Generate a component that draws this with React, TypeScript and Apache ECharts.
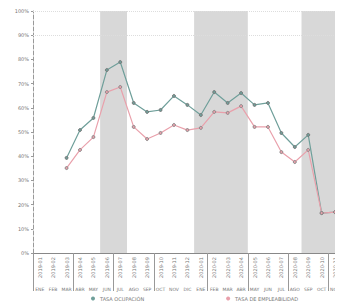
import React, { useEffect, useRef } from "react";
import * as echarts from "echarts";

const periods = [
  "2019-01", "2019-02", "2019-03", "2019-04", "2019-05", "2019-06", "2019-07", "2019-08",
  "2019-09", "2019-10", "2019-11", "2019-12", "2020-01", "2020-02", "2020-03", "2020-04",
  "2020-05", "2020-06", "2020-07", "2020-08", "2020-09", "2020-10", "2020-11",
];
const months = [
  "ENE", "FEB", "MAR", "ABR", "MAY", "JUN", "JUL", "AGO", "SEP", "OCT", "NOV", "DIC",
  "ENE", "FEB", "MAR", "ABR", "MAY", "JUN", "JUL", "AGO", "SEP", "OCT", "NOV",
];
const tasaOcupacion = [
  null, null, 39.3, 50.8, 55.8, 75.6, 78.9, 62.0, 58.3, 59.1, 64.9, 61.2,
  57.0, 66.5, 62.0, 66.1, 61.2, 62.0, 49.6, 43.8, 48.8, 16.5, 16.9,
];
const tasaEmpleo = [
  null, null, 35.1, 42.6, 47.9, 66.5, 68.6, 52.1, 47.1, 49.6, 52.9, 50.8,
  51.7, 58.3, 57.9, 60.7, 52.1, 52.1, 41.7, 37.6, 42.6, 16.5, 16.9,
];
const seriesNames = ["TASA OCUPACIÓN", "TASA DE EMPLEABILIDAD"];
// shaded periods: first and last category index (inclusive)
const shadedRanges: [number, number][] = [[5, 6], [12, 15], [20, 22]];
const groupStarts = [0, 3, 6, 9, 13, 16, 19, 22];

export default function App() {
  const ref = useRef<HTMLDivElement>(null);
  useEffect(() => {
    if (!ref.current) return;
    const chart = echarts.init(ref.current, null, { renderer: "svg" });
    chart.setOption({
      animation: false,
      textStyle: { fontFamily: "DejaVu Sans" },
      grid: { left: 33, right: 0, top: 11, bottom: 54 },
      legend: {
        bottom: 1,
        left: 86,
        itemGap: 82,
        icon: "circle",
        itemWidth: 4,
        itemHeight: 4,
        textStyle: { fontSize: 5, color: "#777" },
        data: seriesNames,
      },
      xAxis: [
        {
          type: "category",
          data: periods,
          position: "bottom",
          axisLine: { lineStyle: { color: "#888", width: 1 } },
          axisTick: {
            show: true,
            length: 38,
            interval: (i: number) => groupStarts.includes(i),
            lineStyle: { color: "#999" },
          },
          axisLabel: { rotate: 90, fontSize: 5, color: "#777", interval: 0, margin: 4 },
        },
        {
          type: "category",
          data: months,
          position: "bottom",
          offset: 32,
          axisLine: { show: false },
          axisTick: { show: false },
          axisLabel: { fontSize: 4.5, color: "#777", interval: 0, margin: 2 },
        },
        {
          type: "value",
          min: 0,
          max: periods.length,
          show: false,
        },
      ],
      yAxis: {
        type: "value",
        min: 0,
        max: 100,
        interval: 10,
        axisLine: { show: true, lineStyle: { color: "#999", type: "dashed" } },
        axisTick: { show: true, length: 2, lineStyle: { color: "#999" } },
        splitLine: { show: false },
        axisLabel: { fontSize: 5, color: "#777", formatter: "{value}%", margin: 4 },
      },
      series: [
        {
          name: "bands",
          type: "line",
          xAxisIndex: 2,
          data: [],
          z: 0,
          markArea: {
            silent: true,
            itemStyle: { color: "#d8d8d8" },
            data: shadedRanges.map(([a, b]) => [{ xAxis: a }, { xAxis: b + 1 }]),
          },
          markLine: {
            silent: true,
            symbol: "none",
            label: { show: false },
            lineStyle: { color: "#ddd", type: "dotted", width: 1 },
            data: [{ yAxis: 100 }, { yAxis: 90 }],
          },
        },
        {
          name: seriesNames[0],
          type: "line",
          data: tasaOcupacion,
          symbol: "circle",
          symbolSize: 3,
          itemStyle: { color: "#6f9f9a", borderColor: "#777" },
          lineStyle: { color: "#6f9f9a", width: 1.2 },
        },
        {
          name: seriesNames[1],
          type: "line",
          data: tasaEmpleo,
          symbol: "circle",
          symbolSize: 3,
          itemStyle: { color: "#e9a0ab", borderColor: "#888" },
          lineStyle: { color: "#e9a0ab", width: 1.2 },
        },
      ],
    });
    return () => chart.dispose();
  }, []);
  return <div ref={ref} style={{ width: 343, height: 307, marginLeft: -8, marginTop: -8 }} />;
}
